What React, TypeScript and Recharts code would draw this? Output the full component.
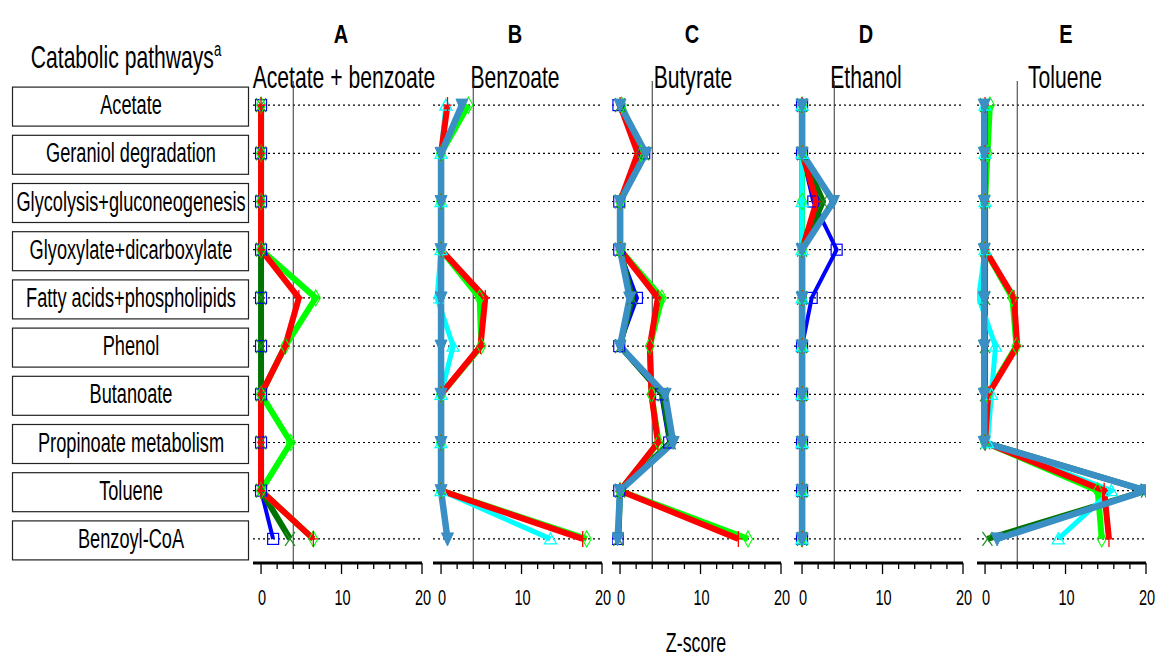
import { LineChart, Line, XAxis, YAxis, CartesianGrid, ReferenceLine } from "recharts";

// pathways (rows, top to bottom)
const pathways = [
  "Acetate",
  "Geraniol degradation",
  "Glycolysis+gluconeogenesis",
  "Glyoxylate+dicarboxylate",
  "Fatty acids+phospholipids",
  "Phenol",
  "Butanoate",
  "Propinoate metabolism",
  "Toluene",
  "Benzoyl-CoA",
];

const zTicks = [0, 2, 4, 6, 8, 10, 12, 14, 16, 18, 20];

// A: Acetate + benzoate
const aBlue = [0, 0, 0, 0, 0, 0, 0, 0, 0, 1.5];
const aDarkGreen = [0, 0, 0, 0, 0, 0, 0, 0, 0, 3.6];
const aGreen = [0, 0, 0, 0, 6.8, 3.0, 0, 3.7, 0, 6.5];
const aRed = [0, 0, 0, 0, 4.7, 3.0, 0, 0, 0, 6.5];

// B: Benzoate
const bGreen = [3.4, 0, 0, 0, 4.8, 5.0, 0, 0, 0, 18.1];
const bCyan = [0.6, 0, 0, 0, -0.5, 1.5, 0, 0, 0, 13.6];
const bRed = [0.8, 0, 0, 0, 5.5, 4.9, 0, 0, 0, 17.6];
const bSteel = [2.6, 0, 0, 0, 0, 0, 0, 0, 0, 0.8];

// C: Butyrate
const cBlue = [-0.2, 3.0, -0.1, -0.1, 2.1, -0.1, 5.1, 6.1, -0.1, -0.3];
const cDarkGreen = [0, 3.0, 0, 0, 1.5, 0, 5.3, 6.3, 0, -0.2];
const cGreen = [0.2, 2.6, 0, 0, 5.2, 3.7, 3.9, 4.8, 0, 15.9];
const cRed = [0, 2.2, 0, 0, 4.7, 3.7, 3.9, 4.7, 0, 14.7];
const cSteel = [0, 3.2, 0, 0, 1.2, 0, 5.6, 6.6, 0, -0.3];

// D: Ethanol
const dBlue = [0, 0, 1.4, 4.3, 1.2, 0, 0, 0, 0, 0];
const dDarkGreen = [0, 0, 2.6, 0, 0, 0, 0, 0, 0, 0];
const dGreen = [0, 0, 0, 0, 0, 0, 0, 0, 0, 0];
const dCyan = [0, 0, 0, 0, 0, 0, 0, 0, 0, 0];
const dRed = [0, 0, 1.8, 0, 0, 0, 0, 0, 0, 0];
const dSteel = [0, 0, 3.9, 0, 0, 0, 0, 0, 0, 0];

// E: Toluene
const eDarkGreen = [0, 0, 0, 0, 0, 0, 0, 0, 20, 0.3];
const eGreen = [0.6, 0.3, 0, 0, 3.4, 3.9, 0.3, 0, 14, 14.5];
const eCyan = [0, 0, 0, 0, -0.8, 1.3, 0.8, 0.3, 15.7, 9.1];
const eRed = [0, 0, 0, 0, 3.6, 4.0, 0.4, 0, 14.8, 15.4];
const eSteel = [-0.1, -0.1, -0.1, -0.1, -0.1, -0.1, -0.1, -0.1, 20, 1.5];

const SERIES = [
  { key: "blue", color: "#0000ff", width: 4, marker: "square" },
  { key: "darkgreen", color: "#007400", width: 6, marker: "x" },
  { key: "green", color: "#00ff00", width: 6, marker: "diamond" },
  { key: "cyan", color: "#00ffff", width: 5, marker: "triUp" },
  { key: "red", color: "#ff0000", width: 6, marker: "plus" },
  { key: "steel", color: "#3a8fc4", width: 6.5, marker: "triDown" },
];

const panels = [
  { letter: "A", title: "Acetate + benzoate", left: 253, letterX: 341, titleX: 344,
    vals: { blue: aBlue, darkgreen: aDarkGreen, green: aGreen, red: aRed } },
  { letter: "B", title: "Benzoate", left: 433, letterX: 515, titleX: 515,
    vals: { green: bGreen, cyan: bCyan, red: bRed, steel: bSteel } },
  { letter: "C", title: "Butyrate", left: 612, letterX: 692, titleX: 693,
    vals: { blue: cBlue, darkgreen: cDarkGreen, green: cGreen, red: cRed, steel: cSteel } },
  { letter: "D", title: "Ethanol", left: 794, letterX: 866, titleX: 866,
    vals: { blue: dBlue, darkgreen: dDarkGreen, green: dGreen, cyan: dCyan, red: dRed, steel: dSteel } },
  { letter: "E", title: "Toluene", left: 977, letterX: 1066, titleX: 1065,
    vals: { darkgreen: eDarkGreen, green: eGreen, cyan: eCyan, red: eRed, steel: eSteel } },
];

const FONT = "'Liberation Sans', Arial, sans-serif";
const SX = 0.66;
const PLOT_TOP = 81;
const PLOT_BOTTOM = 563;
const BAND = (PLOT_BOTTOM - PLOT_TOP) / pathways.length;
const PAD_L = 10;
const PLOT_W = 169;
const PAD_R = 14;
const X_AXIS_H = 40;

// row centres, used for grid lines and label boxes
const rowY = (i: number) => PLOT_TOP + BAND * (i + 0.5);

function marker(kind: string, color: string) {
  return (p: any) => {
    const { cx, cy, index, value } = p;
    const k = `${kind}-${index}`;
    if (cx == null || cy == null || value == null) return <g key={k} />;
    switch (kind) {
      case "square":
        return <rect key={k} x={cx - 5.5} y={cy - 5.5} width={11} height={11} fill="none" stroke={color} strokeWidth={1.2} />;
      case "x":
        return (
          <path key={k} d={`M${cx - 5},${cy - 7}L${cx + 5},${cy + 7}M${cx - 5},${cy + 7}L${cx + 5},${cy - 7}`} stroke={color} strokeWidth={1.2} fill="none" />
        );
      case "diamond":
        return <path key={k} d={`M${cx},${cy - 8}L${cx + 4.5},${cy}L${cx},${cy + 8}L${cx - 4.5},${cy}Z`} fill="none" stroke={color} strokeWidth={1.1} />;
      case "triUp":
        return <path key={k} d={`M${cx},${cy - 6}L${cx + 6},${cy + 5}L${cx - 6},${cy + 5}Z`} fill="none" stroke={color} strokeWidth={1.3} />;
      case "plus":
        return <path key={k} d={`M${cx},${cy - 8}L${cx},${cy + 8}M${cx - 4},${cy}L${cx + 4},${cy}`} stroke={color} strokeWidth={1.3} fill="none" />;
      default:
        return <path key={k} d={`M${cx - 6},${cy - 6}L${cx + 6},${cy - 6}L${cx},${cy + 7}Z`} fill={color} stroke={color} strokeWidth={1} />;
    }
  };
}

const ZTick = (props: any) => {
  const { x, payload } = props;
  const v = payload.value;
  const major = v % 10 === 0;
  return (
    <g>
      <line x1={x} x2={x} y1={PLOT_BOTTOM} y2={PLOT_BOTTOM + (major ? 11 : 6)} stroke="#000" strokeWidth={1.3} />
      {major && (
        <text transform={`translate(${x + 1},${PLOT_BOTTOM + 42}) scale(${SX},1)`} textAnchor="middle" fontSize={22} fontFamily={FONT} fill="#000">
          {v}
        </text>
      )}
    </g>
  );
};

const EmptyTick = () => <g />;

const gridRows = (props: any) => {
  const sc = props?.yAxis?.scale;
  if (typeof sc === "function") {
    const ys = pathways.map((p) => sc(p)).filter((v: any) => typeof v === "number" && !isNaN(v));
    if (ys.length === pathways.length) return ys;
  }
  return pathways.map((_, i) => rowY(i));
};

function Panel({ panel }: { panel: any }) {
  const data = pathways.map((name, i) => {
    const row: any = { name };
    for (const s of SERIES) {
      const arr = panel.vals[s.key];
      row[s.key] = arr ? arr[i] : null;
    }
    return row;
  });
  const active = SERIES.filter((s) => panel.vals[s.key]);
  const W = PAD_L + PLOT_W + PAD_R;
  return (
    <div style={{ position: "absolute", left: panel.left - PAD_L, top: 0 }}>
      <LineChart
        width={W}
        height={659}
        data={data}
        layout="vertical"
        margin={{ top: PLOT_TOP, right: PAD_R, bottom: 659 - PLOT_BOTTOM - X_AXIS_H, left: PAD_L }}
      >
        <CartesianGrid
          vertical={false}
          stroke="#000"
          strokeDasharray="2 3"
          strokeWidth={1.2}
          horizontalCoordinatesGenerator={gridRows}
        />
        <XAxis
          type="number"
          domain={[-1, 20]}
          ticks={zTicks}
          interval={0}
          allowDataOverflow
          height={X_AXIS_H}
          axisLine={{ stroke: "#000", strokeWidth: 3 }}
          tickLine={false}
          tick={<ZTick />}
        />
        <YAxis
          type="category"
          dataKey="name"
          width={0}
          interval={0}
          padding={{ top: BAND / 2, bottom: BAND / 2 }}
          tick={<EmptyTick />}
          tickSize={4}
          tickLine={{ stroke: "#000" }}
          axisLine={{ stroke: "#8a8a8a", strokeWidth: 1.5 }}
        />
        <ReferenceLine x={4} stroke="#333" strokeWidth={1} />
        {active.map((s) => (
          <Line
            key={s.key}
            dataKey={s.key}
            type="linear"
            stroke={s.color}
            strokeWidth={s.width}
            strokeLinejoin="miter"
            dot={marker(s.marker, s.marker === "x" ? "#1f8f1f" : s.color)}
            activeDot={false}
            isAnimationActive={false}
          />
        ))}
      </LineChart>
    </div>
  );
}

function Labels() {
  return (
    <svg width={1156} height={659} style={{ position: "absolute", left: 0, top: 0 }}>
      <text transform={`translate(126,68) scale(${SX},1)`} textAnchor="middle" fontSize={32} fontFamily={FONT} fill="#000">
        Catabolic pathways
        <tspan fontSize={20} dy={-12}>a</tspan>
      </text>
      {pathways.map((p, i) => {
        const cy = rowY(i);
        return (
          <g key={p}>
            <rect x={12.5} y={cy - 18} width={236} height={39} fill="#fff" stroke="#222" strokeWidth={1.2} />
            <text transform={`translate(131,${cy + 9}) scale(0.65,1)`} textAnchor="middle" fontSize={28} fontFamily={FONT} fill="#000">
              {p}
            </text>
          </g>
        );
      })}
      {panels.map((pn) => (
        <g key={pn.letter}>
          <text transform={`translate(${pn.letterX},43) scale(0.8,1)`} textAnchor="middle" fontSize={25} fontWeight="bold" fontFamily={FONT} fill="#000">
            {pn.letter}
          </text>
          <text transform={`translate(${pn.titleX},88) scale(${SX},1)`} textAnchor="middle" fontSize={32} fontFamily={FONT} fill="#000">
            {pn.title}
          </text>
        </g>
      ))}
      <text transform={`translate(696,652) scale(${SX},1)`} textAnchor="middle" fontSize={27} fontFamily={FONT} fill="#000">
        Z-score
      </text>
    </svg>
  );
}

export default function App() {
  return (
    <div style={{ position: "absolute", left: 0, top: 0, width: 1156, height: 659, background: "#fff" }}>
      <Labels />
      {panels.map((pn) => (
        <Panel key={pn.letter} panel={pn} />
      ))}
    </div>
  );
}
